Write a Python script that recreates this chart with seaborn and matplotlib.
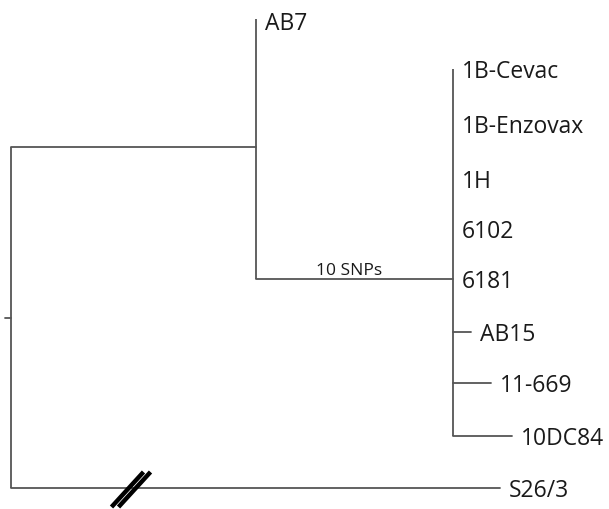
import matplotlib.pyplot as plt
import pandas as pd
import seaborn as sns

sns.set_theme(style="white")
plt.rcParams['font.family'] = ['Open Sans', 'DejaVu Sans']

# Tree data (drawing units)
leaf_names = ['AB7', '1B-Cevac', '1B-Enzovax', '1H', '6102', '6181',
              'AB15', '11-669', '10DC84', 'S26/3']
leaf_y = [20, 70, 125, 180, 230, 280, 333, 384, 437, 489]
# tip branch lengths measured from each leaf's parent node
tip_lengths = [0, 0, 0, 0, 0, 0, 18, 38, 59, 489]
leaf_parent = ['n1', 'n2', 'n2', 'n2', 'n2', 'n2', 'n2', 'n2', 'n2', 'root']

node_names = ['root', 'n1', 'n2']
node_parent = [None, 'root', 'n1']
node_lengths = [0, 245, 197]
node_y = [319, 148, 280]
root_x = 11
snp_label = '10 SNPs'

line_col = '#555555'
lw = 1.3

# node x positions
node_x = {}
for n, p, L in zip(node_names, node_parent, node_lengths):
    node_x[n] = root_x if p is None else node_x[p] + L
node_yd = dict(zip(node_names, node_y))

fig = plt.figure(figsize=(6.09, 5.10), dpi=100)
ax = fig.add_axes([0, 0, 1, 1])
ax.set_xlim(0, 609)
ax.set_ylim(510, 0)
ax.axis('off')

# children y-extent for each internal node
children = {n: [] for n in node_names}
for n, p in zip(node_names, node_parent):
    if p is not None:
        children[p].append(node_yd[n])
for y, p in zip(leaf_y, leaf_parent):
    children[p].append(y)

for n in node_names:
    ys = children[n]
    ax.plot([node_x[n], node_x[n]], [min(ys), max(ys)], color=line_col, lw=lw,
            solid_capstyle='butt')

# horizontal branches to internal nodes
for n, p in zip(node_names, node_parent):
    if p is not None:
        ax.plot([node_x[p], node_x[n]], [node_yd[n], node_yd[n]], color=line_col, lw=lw)

# root tick
ax.plot([root_x - 6, root_x], [node_yd['root'], node_yd['root']], color=line_col, lw=lw)

# leaves
for name, y, p, L in zip(leaf_names, leaf_y, leaf_parent, tip_lengths):
    x0 = node_x[p]
    x1 = x0 + L
    if L > 0:
        ax.plot([x0, x1], [y, y], color=line_col, lw=lw)
    ty = y + 4 if name == 'AB7' else y + 2
    ax.text(x1 + 9, ty, name, fontsize=16.5, va='center', ha='left', color='#1a1a1a')

# SNP label on the n1-n2 branch
ax.text((node_x['n1'] + node_x['n2']) / 2 - 5, node_yd['n2'] - 9, snp_label,
        fontsize=12.5, ha='center', va='center', color='#1a1a1a')

# break mark on the long S26/3 branch
bx, by = 131, 490
for off in (-3.5, 3.5):
    ax.plot([bx + off - 16, bx + off + 16], [by + 18, by - 17], color='black',
            lw=3.2, solid_capstyle='butt')

fig.savefig('out.png', dpi=100)
